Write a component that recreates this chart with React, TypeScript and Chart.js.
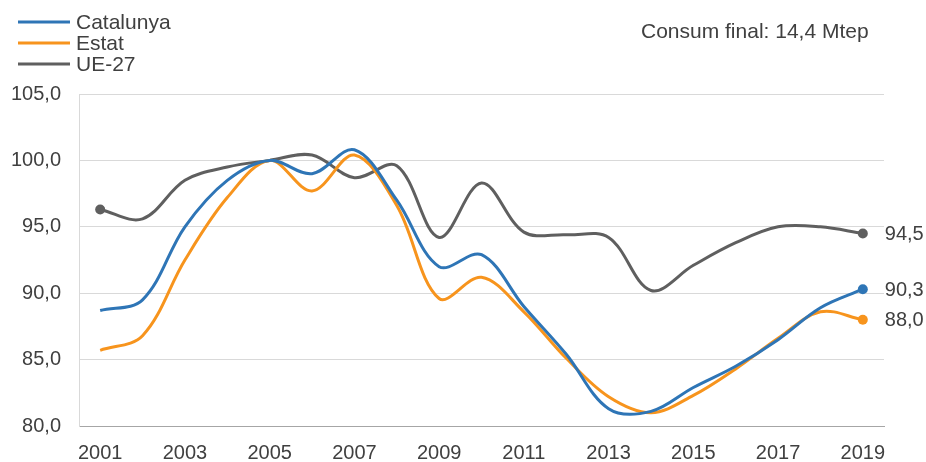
import React, { useEffect, useRef } from "react";
import { Chart, registerables } from "chart.js";

Chart.register(...registerables);

const years = ["2001","2002","2003","2004","2005","2006","2007","2008","2009","2010","2011","2012","2013","2014","2015","2016","2017","2018","2019"];
const catalunya = [88.7, 89.5, 95.0, 98.5, 100.0, 99.0, 100.8, 97.0, 92.0, 92.9, 89.0, 85.4, 81.3, 81.1, 82.9, 84.5, 86.5, 88.9, 90.3];
const estat = [85.7, 86.8, 92.5, 97.2, 100.0, 97.7, 100.4, 96.6, 89.6, 91.2, 88.6, 85.1, 82.2, 81.0, 82.3, 84.3, 86.6, 88.6, 88.0];
const ue27 = [96.3, 95.6, 98.5, 99.5, 100.0, 100.4, 98.7, 99.6, 94.2, 98.3, 94.6, 94.4, 94.2, 90.2, 92.1, 93.8, 95.0, 95.0, 94.5];
const seriesNames = ["Catalunya", "Estat", "UE-27"];
const seriesColors = ["#2e75b6", "#f7941d", "#5f5f5f"];
const noteText = "Consum final: 14,4 Mtep";
const yTicks = { min: 80, max: 105, step: 5 };

const FONT = "'Liberation Sans', Arial, sans-serif";
const TEXT = "#404040";

const fmt = (v: number) => v.toFixed(1).replace(".", ",");

export default function App() {
  const ref = useRef<HTMLCanvasElement | null>(null);
  useEffect(() => {
    if (!ref.current) return;
    const last = years.length - 1;
    const radii = (first: boolean) => years.map((_, i) => (i === last || (first && i === 0) ? 5 : 0));
    const overlay = {
      id: "overlay",
      afterDraw(chart: any) {
        const ctx = chart.ctx;
        ctx.save();
        ctx.font = `21px ${FONT}`;
        ctx.fillStyle = TEXT;
        ctx.textBaseline = "middle";
        ctx.textAlign = "left";
        // legend
        seriesNames.forEach((n, i) => {
          const y = 22 + i * 21;
          ctx.strokeStyle = seriesColors[i];
          ctx.lineWidth = 3;
          ctx.beginPath();
          ctx.moveTo(18, y);
          ctx.lineTo(70, y);
          ctx.stroke();
          ctx.fillText(n, 76, y + 1);
        });
        // note
        ctx.fillText(noteText, 641, 32);
        // end labels
        ctx.font = `20px ${FONT}`;
        chart.data.datasets.forEach((ds: any, i: number) => {
          const meta = chart.getDatasetMeta(i);
          const pt = meta.data[last];
          ctx.fillText(fmt(ds.data[last]), pt.x + 22, pt.y + 1);
        });
        ctx.restore();
      },
    };
    const chart = new Chart(ref.current, {
      type: "line",
      data: {
        labels: years,
        datasets: [catalunya, estat, ue27].map((d, i) => ({
          label: seriesNames[i],
          data: d,
          borderColor: seriesColors[i],
          backgroundColor: seriesColors[i],
          borderWidth: 3,
          tension: 0.35,
          pointRadius: radii(i === 2),
          pointHoverRadius: radii(i === 2),
          pointBorderWidth: 0,
          fill: false,
        })),
      },
      options: {
        animation: false,
        responsive: true,
        maintainAspectRatio: false,
        layout: { padding: { top: 94, right: 42, left: 0, bottom: 0 } },
        plugins: { legend: { display: false }, tooltip: { enabled: false } },
        scales: {
          x: {
            offset: true,
            grid: { display: false, drawTicks: false },
            border: { display: true, color: "#a6a6a6", width: 1 },
            ticks: {
              autoSkip: false,
              maxRotation: 0,
              padding: 15,
              color: TEXT,
              font: { family: FONT, size: 20 },
              callback: (_v: any, i: number) => (i % 2 === 0 ? years[i] : ""),
            },
            afterFit: (s: any) => { s.height = 36; },
          },
          y: {
            min: yTicks.min,
            max: yTicks.max,
            ticks: {
              stepSize: yTicks.step,
              padding: 18,
              color: TEXT,
              font: { family: FONT, size: 20 },
              callback: (v: any) => fmt(Number(v)),
            },
            grid: { color: "#d9d9d9", lineWidth: 1, drawTicks: false },
            border: { display: true, color: "#d9d9d9", width: 1 },
            afterFit: (s: any) => { s.width = 79; },
          },
        },
      },
      plugins: [overlay],
    });
    return () => chart.destroy();
  }, []);
  return (
    <div style={{ position: "absolute", left: 0, top: 0, width: 926, height: 462 }}>
      <canvas ref={ref} />
    </div>
  );
}
